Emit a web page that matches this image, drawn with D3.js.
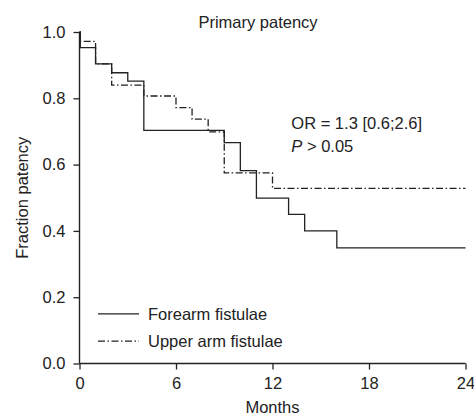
<!DOCTYPE html>
<html>
<head>
<meta charset="utf-8">
<script src="https://cdn.jsdelivr.net/npm/d3@7"></script>
<style>
  body { margin: 0; background: #fff; }
  text { font-family: "Liberation Sans", Arial, sans-serif; fill: #222; }
</style>
</head>
<body>
<div id="chart"></div>
<script>
var svgWidth = 474;
var svgHeight = 415;

var margin = { top: 32, right: 8.5, bottom: 51.5, left: 79.5 };

var width = svgWidth - margin.left - margin.right;
var height = svgHeight - margin.top - margin.bottom;

// Kaplan-Meier step values
var forearmMonths = [0, 0.05, 1, 2, 3, 4, 9, 10, 11, 13, 14, 16, 24];
var forearmValues = [1, 0.953, 0.904, 0.877, 0.852, 0.703, 0.666, 0.582, 0.499, 0.45, 0.40, 0.349, 0.349];

var upperMonths = [0, 0.05, 1, 2, 4, 6, 7, 8, 9, 12, 24];
var upperValues = [1, 0.972, 0.904, 0.840, 0.807, 0.772, 0.737, 0.699, 0.575, 0.528, 0.528];

var xTicks = [0, 6, 12, 18, 24];
var yTicks = [0, 0.2, 0.4, 0.6, 0.8, 1.0];

var seriesNames = ["Forearm fistulae", "Upper arm fistulae"];
var dashes = [null, "7,2.5,1.5,2.5"];

var svg = d3.select("#chart")
  .append("svg")
  .attr("width", svgWidth)
  .attr("height", svgHeight);

var chartGroup = svg.append("g")
  .attr("transform", `translate(${margin.left}, ${margin.top})`);

var x = d3.scaleLinear().domain([0, 24]).range([0, width]);
var y = d3.scaleLinear().domain([0, 1]).range([height, 0]);

// axes
var bottomAxis = d3.axisBottom(x).tickValues(xTicks).tickSize(6).tickPadding(8).tickFormat(d3.format("d"));
var leftAxis = d3.axisLeft(y).tickValues(yTicks).tickSize(6).tickPadding(8).tickFormat(d3.format(".1f"));

var xAxis = chartGroup.append("g")
  .attr("transform", `translate(0, ${height})`)
  .call(bottomAxis);

var yAxis = chartGroup.append("g")
  .call(leftAxis);

[xAxis, yAxis].forEach(function(a) {
  a.select(".domain").attr("stroke", "#222").attr("stroke-width", 1.4).attr("d", function() {
    return a === xAxis ? `M0,0H${width}` : `M0,0V${height}`;
  });
  a.selectAll(".tick line").attr("stroke", "#222").attr("stroke-width", 1.3);
  a.selectAll(".tick text").style("font-size", "16.5px").style("fill", "#222")
    .style("font-family", "'Liberation Sans', Arial, sans-serif");
});

// step curves
var line = d3.line()
  .x(d => x(d[0]))
  .y(d => y(d[1]))
  .curve(d3.curveStepAfter);

var forearmData = forearmMonths.map((m, i) => [m, forearmValues[i]]);
var upperData = upperMonths.map((m, i) => [m, upperValues[i]]);

chartGroup.append("path")
  .datum(upperData)
  .attr("d", line)
  .attr("fill", "none")
  .attr("stroke", "#222")
  .attr("stroke-width", 1.3)
  .attr("stroke-dasharray", dashes[1]);

chartGroup.append("path")
  .datum(forearmData)
  .attr("d", line)
  .attr("fill", "none")
  .attr("stroke", "#222")
  .attr("stroke-width", 1.3);

// title
chartGroup.append("text")
  .attr("x", x(11.1))
  .attr("y", -4)
  .attr("text-anchor", "middle")
  .style("font-size", "16.5px")
  .text("Primary patency");

// axis labels
chartGroup.append("text")
  .attr("x", width / 2)
  .attr("y", height + 49)
  .attr("text-anchor", "middle")
  .style("font-size", "16.5px")
  .text("Months");

chartGroup.append("text")
  .attr("transform", "rotate(-90)")
  .attr("x", -height / 2)
  .attr("y", -52)
  .attr("text-anchor", "middle")
  .style("font-size", "16.5px")
  .text("Fraction patency");

// statistics annotation
var stats = chartGroup.append("text")
  .attr("x", x(13.17))
  .style("font-size", "16.5px");
stats.append("tspan").attr("x", x(13.17)).attr("y", 97).text("OR = 1.3 [0.6;2.6]");
var pLine = stats.append("tspan").attr("x", x(13.17)).attr("y", 119.5);
pLine.append("tspan").style("font-style", "italic").text("P");
pLine.append("tspan").text(" > 0.05");

// legend
var legend = chartGroup.append("g")
  .attr("transform", `translate(${x(1.15)}, ${y(0.15)})`);

seriesNames.forEach(function(name, i) {
  var row = legend.append("g").attr("transform", `translate(0, ${i * 27.3})`);
  row.append("line")
    .attr("x1", 0).attr("x2", 41)
    .attr("y1", 0).attr("y2", 0)
    .attr("stroke", "#222")
    .attr("stroke-width", 1.3)
    .attr("stroke-dasharray", dashes[i]);
  row.append("text")
    .attr("x", 50)
    .attr("y", 6)
    .style("font-size", "16.5px")
    .text(name);
});
</script>
</body>
</html>
